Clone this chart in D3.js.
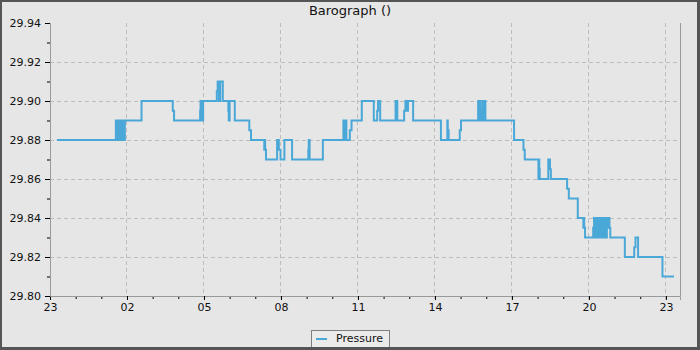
<!DOCTYPE html>
<html>
<head>
  <meta charset="utf-8" />
  <title>Barograph</title>
  <script src="https://d3js.org/d3.v7.min.js"></script>
  <style>
    body { margin: 0; background: #e6e6e6; }
    svg { display: block; font-family: "DejaVu Sans", sans-serif; }
  </style>
</head>
<body>
  <div id="chart"></div>
  <script>
    // readings (step data)
    const times = [
      "01 23:16", "02 01:34", "02 01:38", "02 01:39", "02 01:40", "02 01:41", "02 01:42", "02 01:43",
      "02 01:44", "02 01:45", "02 01:46", "02 01:47", "02 01:48", "02 01:49", "02 01:50", "02 01:51",
      "02 01:52", "02 01:53", "02 01:54", "02 01:55", "02 02:34", "02 03:47", "02 03:50", "02 04:51",
      "02 04:52", "02 04:53", "02 04:54", "02 04:55", "02 04:56", "02 04:57", "02 04:58", "02 05:30",
      "02 05:32", "02 05:35", "02 05:38", "02 05:44", "02 05:57", "02 05:58", "02 06:00", "02 06:12",
      "02 06:46", "02 06:50", "02 07:21", "02 07:22", "02 07:23", "02 07:25", "02 07:51", "02 07:55",
      "02 07:59", "02 08:08", "02 08:26", "02 09:04", "02 09:05", "02 09:07", "02 09:38", "02 10:26",
      "02 10:27", "02 10:28", "02 10:29", "02 10:30", "02 10:33", "02 10:41", "02 10:45", "02 11:09",
      "02 11:37", "02 11:45", "02 11:47", "02 11:52", "02 12:28", "02 12:32", "02 12:48", "02 12:51",
      "02 12:55", "02 12:57", "02 13:09", "02 14:14", "02 14:29", "02 14:30", "02 14:32", "02 14:58",
      "02 15:01", "02 15:41", "02 15:42", "02 15:43", "02 15:44", "02 15:45", "02 15:46", "02 15:48",
      "02 15:49", "02 15:51", "02 15:52", "02 15:53", "02 15:54", "02 15:55", "02 15:56", "02 15:57",
      "02 15:58", "02 17:05", "02 17:27", "02 17:30", "02 18:02", "02 18:03", "02 18:04", "02 18:05",
      "02 18:25", "02 18:29", "02 18:31", "02 19:09", "02 19:13", "02 19:34", "02 19:47", "02 19:48",
      "02 19:49", "02 19:51", "02 20:10", "02 20:11", "02 20:12", "02 20:13", "02 20:14", "02 20:15",
      "02 20:16", "02 20:17", "02 20:18", "02 20:19", "02 20:20", "02 20:21", "02 20:22", "02 20:23",
      "02 20:24", "02 20:25", "02 20:26", "02 20:27", "02 20:28", "02 20:29", "02 20:30", "02 20:31",
      "02 20:32", "02 20:33", "02 20:34", "02 20:35", "02 20:36", "02 20:37", "02 20:38", "02 20:39",
      "02 20:40", "02 20:41", "02 20:42", "02 20:43", "02 20:44", "02 20:45", "02 20:46", "02 20:47",
      "02 20:48", "02 20:50", "02 21:24", "02 21:46", "02 21:49", "02 21:55", "02 22:52", "02 23:19"
    ];
    const pressure = [
      29.88, 29.89, 29.88, 29.89, 29.88, 29.89, 29.88, 29.89,
      29.88, 29.89, 29.88, 29.89, 29.88, 29.89, 29.88, 29.89,
      29.88, 29.89, 29.88, 29.89, 29.90, 29.895, 29.89, 29.895,
      29.90, 29.89, 29.90, 29.89, 29.90, 29.89, 29.90, 29.905,
      29.91, 29.90, 29.91, 29.90, 29.895, 29.89, 29.90, 29.89,
      29.885, 29.88, 29.875, 29.88, 29.875, 29.87, 29.88, 29.875,
      29.87, 29.88, 29.87, 29.875, 29.88, 29.87, 29.88, 29.89,
      29.88, 29.89, 29.88, 29.89, 29.88, 29.885, 29.89, 29.90,
      29.89, 29.895, 29.90, 29.89, 29.90, 29.89, 29.895, 29.90,
      29.895, 29.90, 29.89, 29.88, 29.89, 29.885, 29.88, 29.885,
      29.89, 29.90, 29.89, 29.90, 29.89, 29.90, 29.895, 29.89,
      29.895, 29.90, 29.89, 29.90, 29.89, 29.90, 29.89, 29.90,
      29.89, 29.88, 29.875, 29.87, 29.86, 29.87, 29.865, 29.86,
      29.87, 29.865, 29.86, 29.855, 29.85, 29.84, 29.835, 29.84,
      29.835, 29.83, 29.835, 29.83, 29.84, 29.83, 29.84, 29.83,
      29.84, 29.83, 29.84, 29.83, 29.84, 29.83, 29.84, 29.83,
      29.84, 29.83, 29.84, 29.83, 29.84, 29.83, 29.84, 29.83,
      29.84, 29.83, 29.84, 29.83, 29.84, 29.83, 29.84, 29.83,
      29.84, 29.83, 29.84, 29.835, 29.84, 29.835, 29.84, 29.84,
      29.835, 29.83, 29.82, 29.825, 29.83, 29.82, 29.81, 29.81
    ];

    const xDomain = ["01 23:00", "02 23:33"];
    const xTicks = ["01 23:00", "02 02:00", "02 05:00", "02 08:00", "02 11:00",
                    "02 14:00", "02 17:00", "02 20:00", "02 23:00"];
    const yDomain = [29.80, 29.94];
    const yTicks = [29.80, 29.82, 29.84, 29.86, 29.88, 29.90, 29.92, 29.94];
    const yMinorTicks = [29.81, 29.83, 29.85, 29.87, 29.89, 29.91, 29.93];

    const title = "Barograph ()";
    const seriesName = "Pressure";

    const width = 700, height = 350;
    const margin = { top: 23, right: 20, bottom: 54, left: 50 };
    const lineColor = "#4aa8d8";

    const parse = d3.timeParse("%d %H:%M");
    const data = times.map((t, i) => ({ t: parse(t), v: pressure[i] }));

    const svg = d3.select("#chart").append("svg")
      .attr("width", width)
      .attr("height", height);

    // outer frame
    svg.append("rect").attr("width", width).attr("height", height).attr("fill", "#555");
    svg.append("rect").attr("x", 2).attr("y", 2)
      .attr("width", width - 5).attr("height", height - 5).attr("fill", "#e6e6e6");

    const x = d3.scaleTime()
      .domain(xDomain.map(parse))
      .range([margin.left, width - margin.right]);
    const y = d3.scaleLinear()
      .domain(yDomain)
      .range([height - margin.bottom, margin.top]);

    const x0 = margin.left, x1 = width - margin.right;
    const y0 = height - margin.bottom, y1 = margin.top;

    // grid
    const grid = svg.append("g")
      .attr("stroke", "#bdbdbd")
      .attr("stroke-dasharray", "4,3")
      .attr("shape-rendering", "crispEdges");
    grid.selectAll("line.h")
      .data(yTicks.filter(v => v > yDomain[0] && v < yDomain[1]))
      .join("line")
      .attr("x1", x0).attr("x2", x1)
      .attr("y1", d => y(d)).attr("y2", d => y(d));
    grid.selectAll("line.v")
      .data(xTicks.slice(1).map(parse))
      .join("line")
      .attr("x1", d => x(d)).attr("x2", d => x(d))
      .attr("y1", y1).attr("y2", y0);

    // minor ticks
    const minorX = d3.timeHour.range(x.domain()[0], x.domain()[1]);
    svg.append("g")
      .attr("transform", `translate(0,${y0})`)
      .call(d3.axisBottom(x).tickValues(minorX).tickSize(3).tickFormat(""))
      .call(g => g.select(".domain").remove())
      .call(g => g.selectAll("line").attr("stroke", "#000"));
    svg.append("g")
      .attr("transform", `translate(${x0},0)`)
      .call(d3.axisLeft(y).tickValues(yMinorTicks).tickSize(3).tickFormat(""))
      .call(g => g.select(".domain").remove())
      .call(g => g.selectAll("line").attr("stroke", "#000"));

    // major axes
    const xAxis = svg.append("g")
      .attr("transform", `translate(0,${y0})`)
      .call(d3.axisBottom(x)
        .tickValues(xTicks.map(parse))
        .tickSize(4).tickPadding(3)
        .tickFormat(d3.timeFormat("%H")));
    const yAxis = svg.append("g")
      .attr("transform", `translate(${x0},0)`)
      .call(d3.axisLeft(y)
        .tickValues(yTicks)
        .tickSize(5).tickPadding(4)
        .tickFormat(d3.format(".2f")));
    [xAxis, yAxis].forEach(g => {
      g.select(".domain").attr("stroke", "#999").attr("stroke-width", 1);
      g.selectAll(".tick line").attr("stroke", "#000");
      g.selectAll("text").attr("fill", "#111")
        .style("font-size", "11px").style("font-family", "DejaVu Sans");
    });

    // right frame line
    svg.append("line")
      .attr("x1", x1 + 0.5).attr("x2", x1 + 0.5)
      .attr("y1", y1).attr("y2", y0)
      .attr("stroke", "#999");

    // pressure step line
    const line = d3.line()
      .curve(d3.curveStepAfter)
      .x(d => x(d.t))
      .y(d => y(d.v));
    svg.append("path")
      .datum(data)
      .attr("fill", "none")
      .attr("stroke", lineColor)
      .attr("stroke-width", 2)
      .attr("d", line);

    // title
    svg.append("text")
      .attr("x", width / 2).attr("y", 15)
      .attr("text-anchor", "middle")
      .style("font-size", "13px")
      .attr("fill", "#111")
      .text(title);

    // legend
    const lg = svg.append("g");
    lg.append("rect")
      .attr("x", 311.5).attr("y", 330.5)
      .attr("width", 78).attr("height", 22)
      .attr("fill", "#ebebeb").attr("stroke", "#808080");
    lg.append("line")
      .attr("x1", 316).attr("x2", 327)
      .attr("y1", 339).attr("y2", 339)
      .attr("stroke", lineColor).attr("stroke-width", 2);
    lg.append("text")
      .attr("x", 336).attr("y", 342)
      .style("font-size", "11px")
      .attr("fill", "#111")
      .text(seriesName);

    // redraw bottom/right frame over legend
    svg.append("rect").attr("x", 0).attr("y", height - 3)
      .attr("width", width).attr("height", 3).attr("fill", "#555");
  </script>
</body>
</html>
